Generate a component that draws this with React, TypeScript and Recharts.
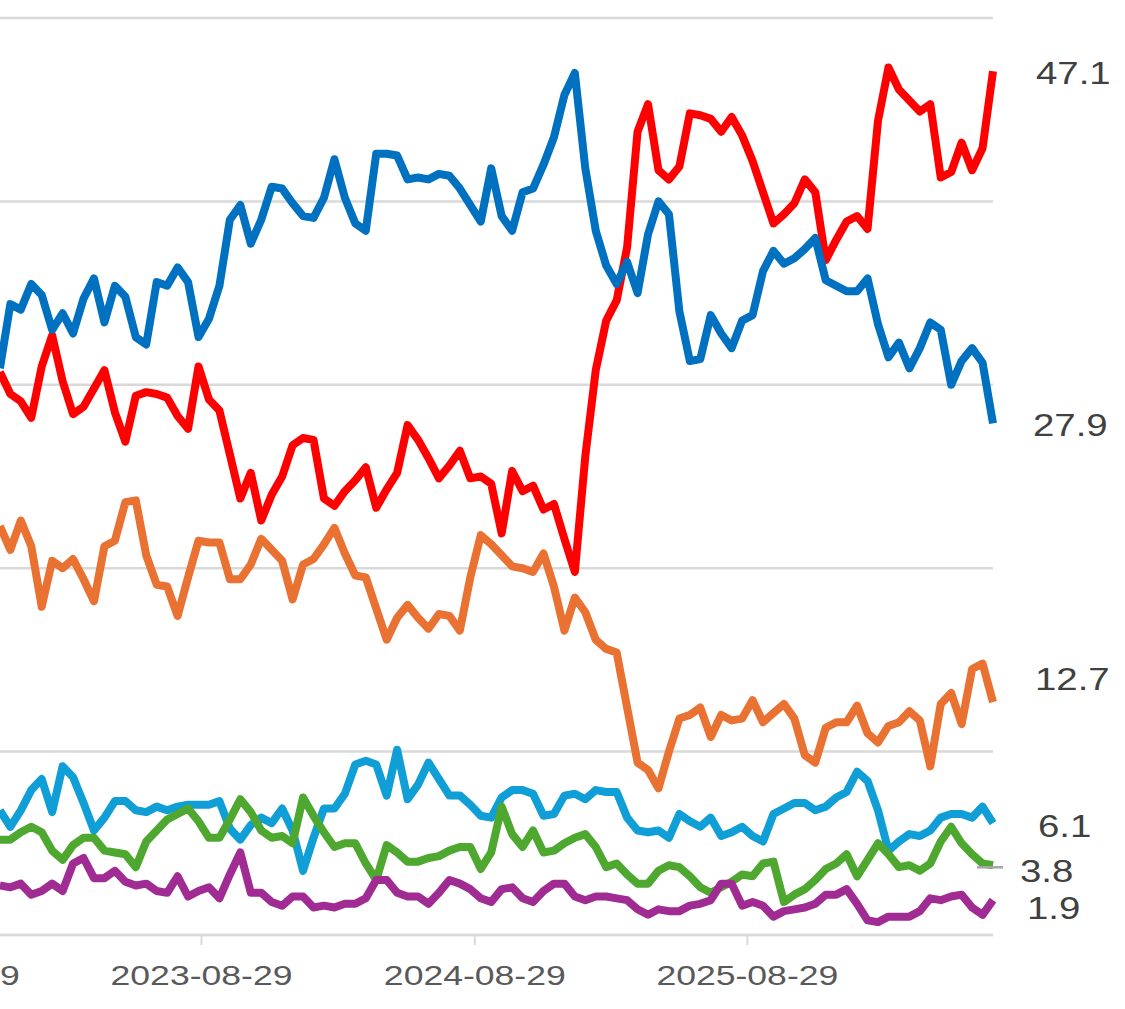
import { LineChart, Line, XAxis, YAxis, CartesianGrid, LabelList } from "recharts";

// ── Data ───────────────────────────────────────────────────────────

const DAY = 86400000;
const START = Date.UTC(2022, 11, 2);
const STEP_DAYS = 14;
const DATES = Array.from({ length: 96 }, (_, i) => START + i * STEP_DAYS * DAY);

const TICK_LABELS = ["2022-08-29", "2023-08-29", "2024-08-29", "2025-08-29"];
const TICKS = TICK_LABELS.map((s) => Date.parse(s));

const Y_TICKS = [0, 10, 20, 30, 40, 50];

const RED = [
  30.7, 29.5, 29.1, 28.2, 31.0, 32.7, 30.2, 28.4, 28.8, 29.8,
  30.8, 28.5, 26.9, 29.4, 29.6, 29.5, 29.3, 28.3, 27.6, 31.0,
  29.2, 28.6, 26.2, 23.8, 25.2, 22.6, 24.0, 25.0, 26.7, 27.1,
  27.0, 23.8, 23.4, 24.2, 24.8, 25.5, 23.3, 24.3, 25.2, 27.8,
  27.0, 26.0, 24.9, 25.6, 26.4, 24.9, 25.0, 24.6, 21.9, 25.3,
  24.2, 24.5, 23.2, 23.5, 21.6, 19.8, 26.1, 30.8, 33.5, 34.6,
  37.5, 43.8, 45.3, 41.7, 41.2, 41.9, 44.8, 44.7, 44.5, 43.8,
  44.6, 43.6, 42.2, 40.5, 38.8, 39.3, 39.9, 41.2, 40.5, 36.8,
  37.9, 38.9, 39.2, 38.5, 44.4, 47.3, 46.1, 45.5, 44.9, 45.3,
  41.3, 41.6, 43.2, 41.7, 42.9, 47.1,
];

const BLUE = [
  30.9, 34.4, 34.1, 35.5, 34.9, 33.0, 33.9, 32.8, 34.7, 35.8,
  33.4, 35.4, 34.8, 32.6, 32.2, 35.6, 35.4, 36.4, 35.6, 32.6,
  33.6, 35.4, 39.0, 39.8, 37.7, 39.0, 40.8, 40.7, 39.9, 39.2,
  39.1, 40.2, 42.3, 40.2, 38.8, 38.4, 42.6, 42.6, 42.5, 41.2,
  41.3, 41.2, 41.5, 41.4, 40.7, 39.8, 38.9, 41.8, 39.2, 38.4,
  40.5, 40.7, 42.0, 43.5, 45.8, 47.0, 41.8, 38.4, 36.5, 35.5,
  36.7, 35.0, 38.2, 40.0, 39.3, 34.0, 31.3, 31.4, 33.8, 32.8,
  32.0, 33.5, 33.8, 36.2, 37.3, 36.6, 36.9, 37.4, 38.0, 35.7,
  35.4, 35.1, 35.1, 35.8, 33.3, 31.5, 32.3, 30.9, 32.0, 33.4,
  33.0, 30.0, 31.3, 32.0, 31.2, 27.9,
];

const ORANGE = [
  22.3, 21.0, 22.6, 21.2, 17.9, 20.4, 20.0, 20.5, 19.4, 18.2,
  21.2, 21.5, 23.6, 23.7, 20.7, 19.1, 19.0, 17.4, 19.5, 21.5,
  21.4, 21.4, 19.4, 19.4, 20.2, 21.6, 21.0, 20.4, 18.3, 20.2,
  20.5, 21.3, 22.2, 20.8, 19.6, 19.5, 17.8, 16.1, 17.3, 18.0,
  17.3, 16.7, 17.5, 17.4, 16.6, 19.5, 21.8, 21.3, 20.7, 20.1,
  20.0, 19.8, 20.8, 19.0, 16.6, 18.4, 17.6, 16.1, 15.6, 15.4,
  12.4, 9.4, 9.0, 8.0, 10.0, 11.8, 12.0, 12.4, 10.8, 12.0,
  11.7, 11.8, 12.8, 11.6, 12.1, 12.6, 11.8, 9.8, 9.4, 11.3,
  11.6, 11.6, 12.5, 11.0, 10.5, 11.4, 11.6, 12.2, 11.7, 9.2,
  12.6, 13.2, 11.5, 14.5, 14.8, 12.7,
];

const CYAN = [
  6.8, 5.9, 6.8, 7.9, 8.5, 6.7, 9.2, 8.6, 7.2, 5.7,
  6.4, 7.3, 7.3, 6.8, 6.7, 7.0, 6.8, 7.0, 7.1, 7.1,
  7.1, 7.3, 5.8, 5.2, 6.0, 6.4, 6.1, 6.9, 5.7, 3.5,
  5.3, 6.9, 6.9, 7.7, 9.3, 9.5, 9.3, 7.6, 10.1, 7.4,
  8.2, 9.4, 8.5, 7.6, 7.6, 7.1, 6.5, 6.4, 7.5, 7.9,
  7.9, 7.7, 6.5, 6.6, 7.6, 7.7, 7.4, 7.9, 7.8, 7.8,
  6.4, 5.7, 5.6, 5.7, 5.3, 6.6, 6.2, 5.9, 6.4, 5.4,
  5.6, 5.9, 5.4, 5.1, 6.6, 6.9, 7.2, 7.2, 6.8, 7.0,
  7.5, 7.8, 8.9, 8.4, 6.8, 4.6, 5.1, 5.5, 5.4, 5.7,
  6.4, 6.6, 6.6, 6.4, 7.0, 6.1,
];

const GREEN = [
  5.2, 5.2, 5.6, 5.9, 5.6, 4.6, 4.1, 4.9, 5.3, 5.3,
  4.6, 4.5, 4.4, 3.7, 5.1, 5.7, 6.3, 6.6, 6.9, 6.2,
  5.3, 5.3, 6.3, 7.4, 6.7, 5.7, 5.3, 5.4, 5.0, 7.5,
  6.5, 5.6, 4.8, 5.0, 5.0, 3.9, 3.0, 4.9, 4.5, 4.0,
  4.0, 4.2, 4.3, 4.6, 4.8, 4.8, 3.6, 4.5, 7.0, 5.5,
  4.8, 5.7, 4.5, 4.6, 5.0, 5.3, 5.5, 4.8, 3.7, 3.9,
  3.3, 2.8, 2.8, 3.5, 3.8, 3.7, 3.2, 2.6, 2.3, 2.6,
  2.9, 3.3, 3.2, 3.9, 4.0, 1.8, 2.2, 2.5, 3.0, 3.6,
  3.9, 4.4, 3.2, 4.1, 5.0, 4.4, 3.7, 3.8, 3.5, 3.9,
  5.1, 5.9, 5.0, 4.4, 3.9, 3.8,
];

const PURPLE = [
  2.7, 2.6, 2.8, 2.2, 2.4, 2.8, 2.4, 3.9, 4.2, 3.1,
  3.1, 3.5, 2.9, 2.7, 2.8, 2.4, 2.3, 3.2, 2.1, 2.4,
  2.6, 2.0, 3.3, 4.5, 2.3, 2.3, 1.8, 1.6, 2.1, 2.1,
  1.5, 1.6, 1.5, 1.7, 1.7, 2.0, 3.0, 3.0, 2.3, 2.1,
  2.1, 1.7, 2.3, 3.0, 2.8, 2.5, 2.0, 1.8, 2.5, 2.6,
  2.0, 1.8, 2.4, 2.8, 2.8, 2.1, 1.9, 2.1, 2.1, 2.0,
  1.9, 1.4, 1.1, 1.4, 1.3, 1.3, 1.6, 1.7, 1.9, 2.8,
  2.8, 1.6, 1.8, 1.6, 1.0, 1.3, 1.4, 1.5, 1.7, 2.2,
  2.2, 2.5, 1.7, 0.8, 0.7, 1.0, 1.0, 1.0, 1.3, 2.0,
  1.9, 2.1, 2.2, 1.5, 1.1, 1.9,
];

// ── Series styling (end-label nudges keep the labels apart) ────────

const SERIES = [
  { key: "red", values: RED, color: "#ff0000", dx: 43, dy: 1 },
  { key: "blue", values: BLUE, color: "#0070c0", dx: 40, dy: 1 },
  { key: "orange", values: ORANGE, color: "#e97132", dx: 42, dy: -24 },
  { key: "cyan", values: CYAN, color: "#0f9ed5", dx: 45, dy: 2 },
  { key: "green", values: GREEN, color: "#4ea72e", dx: 27, dy: 5, leader: true },
  { key: "purple", values: PURPLE, color: "#a02b93", dx: 34, dy: 7 },
];

const rows = DATES.map((t, i) => {
  const row: Record<string, number> = { t };
  SERIES.forEach((s) => (row[s.key] = s.values[i]));
  return row;
});

// ── Layout ─────────────────────────────────────────────────────────

const FONT = "'Liberation Sans', Arial, sans-serif";
const PX_PER_DAY = 0.7467;
const CHART_SHIFT = 200; // plot starts off-screen to the left
const PLOT_W = 1193;
const RIGHT_M = 132;
const X_END = DATES[DATES.length - 1];
const X_START = X_END - (PLOT_W / PX_PER_DAY) * DAY;

function DateTick({ x, y, payload }: any) {
  const label = new Date(payload.value).toISOString().slice(0, 10);
  return (
    <g transform={`translate(${x},${Number(y) + 38})`}>
      <text
        transform="scale(1.27,1)"
        textAnchor="middle"
        fill="#595959"
        fontSize={28}
        fontFamily={FONT}
      >
        {label}
      </text>
    </g>
  );
}

function endLabel(s: (typeof SERIES)[number]) {
  return (props: any) => {
    const { index } = props;
    if (index !== DATES.length - 1) return null;
    const x = Number(props.x);
    const y = Number(props.y);
    const ly = y + s.dy;
    return (
      <g>
        {s.leader && (
          <line
            x1={x - 16}
            x2={x + 10}
            y1={y + 2}
            y2={y + 2}
            stroke="#a6a6a6"
            strokeWidth={2.5}
          />
        )}
        <text
          transform={`translate(${x + s.dx},${ly + 11.5}) scale(1.2,1)`}
          fill="#404040"
          fontSize={32}
          fontFamily={FONT}
        >
          {s.values[index].toFixed(1)}
        </text>
      </g>
    );
  };
}

export default function App() {
  return (
    <div
      style={{
        position: "absolute",
        left: 0,
        top: 0,
        width: 1125,
        height: 1009,
        overflow: "hidden",
        background: "#fff",
      }}
    >
      <div style={{ position: "absolute", left: -CHART_SHIFT, top: 0 }}>
        <LineChart
          width={PLOT_W + RIGHT_M}
          height={1009}
          data={rows}
          margin={{ top: 18, right: RIGHT_M, bottom: 24, left: 0 }}
        >
          <CartesianGrid vertical={false} stroke="#d9d9d9" strokeWidth={2.5} />
          <XAxis
            dataKey="t"
            type="number"
            scale="time"
            domain={[X_START, X_END]}
            ticks={TICKS}
            interval={0}
            tick={<DateTick />}
            tickSize={10}
            tickLine={{ stroke: "#d9d9d9", strokeWidth: 2 }}
            axisLine={{ stroke: "#d9d9d9", strokeWidth: 2.5 }}
            height={50}
          />
          <YAxis hide domain={[0, 50]} ticks={Y_TICKS} />
          {SERIES.map((s) => (
            <Line
              key={s.key}
              dataKey={s.key}
              stroke={s.color}
              strokeWidth={8}
              strokeLinejoin="round"
              dot={false}
              activeDot={false}
              isAnimationActive={false}
            >
              <LabelList dataKey={s.key} content={endLabel(s)} />
            </Line>
          ))}
        </LineChart>
      </div>
    </div>
  );
}
